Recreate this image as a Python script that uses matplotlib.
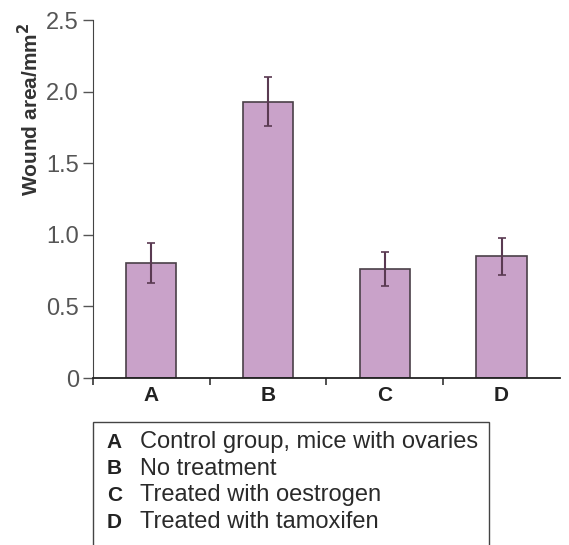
import numpy as np
import matplotlib.pyplot as plt
from matplotlib.patches import Rectangle

groups = ['A', 'B', 'C', 'D']
wound_area = [0.80, 1.93, 0.76, 0.85]
err = [0.14, 0.17, 0.12, 0.13]
descriptions = ['Control group, mice with ovaries', 'No treatment',
                'Treated with oestrogen', 'Treated with tamoxifen']

plt.rcParams['font.family'] = ['Liberation Sans', 'DejaVu Sans']
narrow = ['Liberation Sans Narrow', 'Liberation Sans', 'DejaVu Sans']

fig = plt.figure(figsize=(5.69, 5.45), dpi=100)
ax = fig.add_axes([0.1634, 0.3064, 0.8206, 0.6569])

x = np.arange(len(groups)) + 0.5
ax.bar(x, wound_area, width=0.43, color='#c9a2c9', edgecolor='#4a4048', linewidth=1.2)
ax.errorbar(x, wound_area, yerr=err, fmt='none', ecolor='#5a3a52', elinewidth=1.5,
            capsize=3, capthick=1.2)

ax.set_xlim(0, 4)
ax.set_ylim(0, 2.5)
ax.set_yticks([0, 0.5, 1.0, 1.5, 2.0, 2.5])
ax.set_yticklabels(['0', '0.5', '1.0', '1.5', '2.0', '2.5'], color='#555555', fontsize=17)
ax.set_xticks(x)
ax.set_xticklabels(groups, fontweight='bold', fontsize=15, family=narrow, color='#222222')
ax.set_xticks([0, 1, 2, 3], minor=True)
ax.tick_params(axis='x', which='major', length=0, pad=6)
ax.tick_params(axis='x', which='minor', length=5, width=1.2, color='#333333')
ax.tick_params(axis='y', length=7, width=1.0, color='#555555', pad=3)
ax.spines['top'].set_visible(False)
ax.spines['right'].set_visible(False)
ax.spines['left'].set_color('#444444')
ax.spines['bottom'].set_color('#222222')
ax.spines['bottom'].set_linewidth(1.3)

fig.text(0.052, 0.80, 'Wound area/mm$^\\mathbf{2}$', rotation=90, fontweight='bold',
         fontsize=15, ha='center', va='center', color='#333333')

# legend box
fig.patches.append(Rectangle((0.1634, -0.05), 0.696, 0.276, transform=fig.transFigure,
                             fill=False, edgecolor='#444444', linewidth=1.0))
for i, (g, d) in enumerate(zip(groups, descriptions)):
    yy = 1 - (442 + i * 26.7) / 545
    fig.text(0.188, yy, g, fontweight='bold', fontsize=15, family=narrow,
             va='center', color='#222222')
    fig.text(0.246, yy, d, fontsize=17, va='center', color='#2a2a2a')

fig.savefig('out.png', dpi=100)
